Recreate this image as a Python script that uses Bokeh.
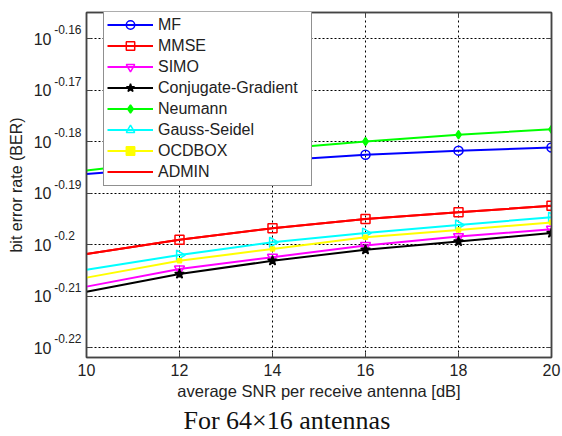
import math
from bokeh.plotting import figure
from bokeh.layouts import column
from bokeh.models import (Range1d, FixedTicker, Legend, LegendItem, Label,
                          LinearAxis, LogAxis, LogScale)
from bokeh.embed import file_html
from bokeh.resources import INLINE

# ---------------- data ----------------
snr = [10, 12, 14, 16, 18, 20]
ber_mf = [0.6513, 0.6534, 0.6551, 0.6569, 0.6581, 0.6590]
ber_mmse = [0.6284, 0.6324, 0.6357, 0.6383, 0.6402, 0.6421]
ber_simo = [0.6193, 0.6242, 0.6275, 0.6308, 0.6333, 0.6354]
ber_cg = [0.6179, 0.6228, 0.6265, 0.6296, 0.6319, 0.6343]
ber_neumann = [0.6523, 0.6554, 0.6585, 0.6608, 0.6628, 0.6644]
ber_gs = [0.6240, 0.6281, 0.6317, 0.6343, 0.6366, 0.6388]
ber_ocdbox = [0.6218, 0.6265, 0.6298, 0.6331, 0.6352, 0.6373]
ber_admin = [0.6284, 0.6324, 0.6357, 0.6383, 0.6402, 0.6421]

series_names = ["MF", "MMSE", "SIMO", "Conjugate-Gradient", "Neumann",
                "Gauss-Seidel", "OCDBOX", "ADMIN"]
series_values = [ber_mf, ber_mmse, ber_simo, ber_cg, ber_neumann,
                 ber_gs, ber_ocdbox, ber_admin]

x_ticks = [10, 12, 14, 16, 18, 20]
y_tick_exps = ["-0.16", "-0.17", "-0.18", "-0.19", "-0.2", "-0.21", "-0.22"]
y_tick_base = "10"
x_title = "average SNR per receive antenna [dB]"
y_title = "bit error rate (BER)"
caption = "For 64\u00d716 antennas"

# ---------------- styles ----------------
styles = {
    "MF": dict(color="#0000FF", marker="circle", size=9, fill=None, angle=0.0),
    "MMSE": dict(color="#FF0000", marker="square", size=9, fill=None, angle=0.0),
    "SIMO": dict(color="#FF00FF", marker="inverted_triangle", size=10, fill=None, angle=0.0),
    "Conjugate-Gradient": dict(color="#000000", marker="star", size=10, fill="#000000", angle=0.0),
    "Neumann": dict(color="#00FF00", marker="diamond", size=8, fill="#00FF00", angle=0.0),
    "Gauss-Seidel": dict(color="#00FFFF", marker="triangle", size=10, fill=None, angle=-math.pi / 2),
    "OCDBOX": dict(color="#FFFF00", marker="square", size=4, fill="#FFFF00", angle=0.0),
    "ADMIN": dict(color="#FF0000", marker=None, size=0, fill=None, angle=0.0),
}

FONT = "Liberation Sans"
W = 562
H_MAIN, H_CAP = 406, 30
AX = "#444444"
TXT = "#222222"
SUP_SHIFT = 10 ** -0.00165   # raises the exponent labels by ~8.5 px

p = figure(width=W, height=H_MAIN, output_backend="svg", toolbar_location=None,
           x_range=Range1d(10, 20), y_range=Range1d(0.6, 0.7),
           y_axis_type="log",
           min_border_left=86, min_border_right=11, min_border_top=12,
           min_border_bottom=49)
p.background_fill_color = "white"
p.border_fill_color = "white"
p.outline_line_color = AX
p.outline_line_width = 1.5

y_tick_vals = [10 ** float(e) for e in y_tick_exps]

# grid
p.xgrid.ticker = FixedTicker(ticks=x_ticks)
p.ygrid.ticker = FixedTicker(ticks=y_tick_vals)
p.xgrid.grid_line_color = "black"
p.ygrid.grid_line_color = "black"
p.xgrid.grid_line_dash = "2 3"
p.ygrid.grid_line_dash = "2 2"
p.xgrid.grid_line_width = 1
p.ygrid.grid_line_width = 1

# x axis
xa = p.xaxis[0]
xa.ticker = FixedTicker(ticks=x_ticks)
xa.axis_line_color = AX
xa.axis_line_width = 1.5
xa.major_tick_line_color = AX
xa.minor_tick_line_color = None
xa.major_tick_in = 5
xa.major_tick_out = 0
xa.major_label_standoff = 6
xa.major_label_text_font = FONT
xa.major_label_text_font_size = "16px"
xa.major_label_text_color = TXT
xa.axis_label = x_title
xa.axis_label_standoff = 3
xa.axis_label_text_font = FONT
xa.axis_label_text_font_style = "normal"
xa.axis_label_text_font_size = "16.5px"
xa.axis_label_text_color = TXT

# y axis nearest the frame: line + inward ticks only
ya = p.yaxis[0]
ya.ticker = FixedTicker(ticks=y_tick_vals)
ya.axis_line_color = AX
ya.axis_line_width = 1.5
ya.major_tick_line_color = AX
ya.minor_tick_line_color = None
ya.major_tick_in = 5
ya.major_tick_out = 0
ya.major_label_standoff = 0
ya.major_label_overrides = {v: "" for v in y_tick_vals}
ya.major_label_text_font_size = "1px"

# exponent labels (on a slightly shifted log range so they sit raised)
p.extra_y_ranges = {"sup": Range1d(0.6 * SUP_SHIFT, 0.7 * SUP_SHIFT)}
p.extra_y_scales = {"sup": LogScale()}
exp_labels = [e if len(e) == 5 else e + "\u2007" for e in y_tick_exps]
sup_ax = LogAxis(y_range_name="sup", ticker=FixedTicker(ticks=y_tick_vals),
                 axis_line_color=None, major_tick_line_color=None, minor_tick_line_color=None,
                 major_tick_in=0, major_tick_out=0, major_label_standoff=5,
                 major_label_text_font=FONT, major_label_text_font_size="12px",
                 major_label_text_color=TXT)
sup_ax.major_label_overrides = {v: t for v, t in zip(y_tick_vals, exp_labels)}
p.add_layout(sup_ax, "left")

# base "10" labels + axis title
base_ax = LogAxis(ticker=FixedTicker(ticks=y_tick_vals),
                  axis_line_color=None, major_tick_line_color=None, minor_tick_line_color=None,
                  major_tick_in=0, major_tick_out=0, major_label_standoff=0,
                  major_label_text_font=FONT, major_label_text_font_size="16px",
                  major_label_text_color=TXT,
                  axis_label=y_title, axis_label_standoff=6,
                  axis_label_text_font=FONT, axis_label_text_font_style="normal",
                  axis_label_text_font_size="16px", axis_label_text_color=TXT)
base_ax.major_label_overrides = {v: y_tick_base for v in y_tick_vals}
p.add_layout(base_ax, "left")

# box axes (top / right) with inward ticks only
top_ax = LinearAxis(ticker=FixedTicker(ticks=x_ticks), major_tick_in=5, major_tick_out=0,
                    major_label_standoff=0, axis_line_color=AX, axis_line_width=1.5,
                    major_tick_line_color=AX, minor_tick_line_color=None,
                    major_label_text_font_size="1px")
top_ax.major_label_overrides = {v: "" for v in x_ticks}
right_ax = LogAxis(ticker=FixedTicker(ticks=y_tick_vals), major_tick_in=5, major_tick_out=0,
                   major_label_standoff=0, axis_line_color=AX, axis_line_width=1.5,
                   major_tick_line_color=AX, minor_tick_line_color=None,
                   major_label_text_font_size="1px")
right_ax.major_label_overrides = {v: "" for v in y_tick_vals}
p.add_layout(top_ax, "above")
p.add_layout(right_ax, "right")

# series
items = []
for name, vals in zip(series_names, series_values):
    st = styles[name]
    rs = []
    lr = p.line(snr, vals, line_color=st["color"], line_width=2)
    rs.append(lr)
    if st["marker"]:
        sr = p.scatter(snr[1:], vals[1:], marker=st["marker"], size=st["size"],
                       line_color=st["color"], line_width=1.5,
                       fill_color=st["fill"], angle=st["angle"], angle_units="rad")
        rs.append(sr)
    items.append(LegendItem(label=name, renderers=rs))

legend = Legend(items=items, location=(17, 171), orientation="vertical",
                label_text_font=FONT, label_text_font_size="16px", label_text_color=TXT,
                glyph_width=46, glyph_height=21, label_height=21, label_width=150,
                label_standoff=5, spacing=0, padding=3, margin=0,
                border_line_color=TXT, border_line_width=1,
                background_fill_color="white", background_fill_alpha=1)
p.add_layout(legend, "center")

# caption strip below the chart (its own small canvas, frame = whole strip)
cap = figure(width=W, height=H_CAP, output_backend="svg", toolbar_location=None,
             x_range=Range1d(0, 1), y_range=Range1d(0, 1),
             x_axis_location=None, y_axis_location=None,
             min_border=0, min_border_left=0, min_border_right=0,
             min_border_top=0, min_border_bottom=0)
cap.outline_line_color = None
cap.background_fill_color = "white"
cap.border_fill_color = "white"
cap.xgrid.visible = False
cap.ygrid.visible = False

aligned = True
for fig in (p, cap):
    if "frame_align" in fig.properties():
        fig.frame_align = False
        aligned = False
cap_x = 97 if aligned else 183
cap.add_layout(Label(x=cap_x, y=16, x_units="screen", y_units="screen", text=caption,
                     text_font="Liberation Serif", text_font_size="26px",
                     text_align="left", text_baseline="alphabetic", text_color="#111111"))

layout = column(p, cap, spacing=0)
open("out.html", "w").write(file_html(layout, INLINE))
